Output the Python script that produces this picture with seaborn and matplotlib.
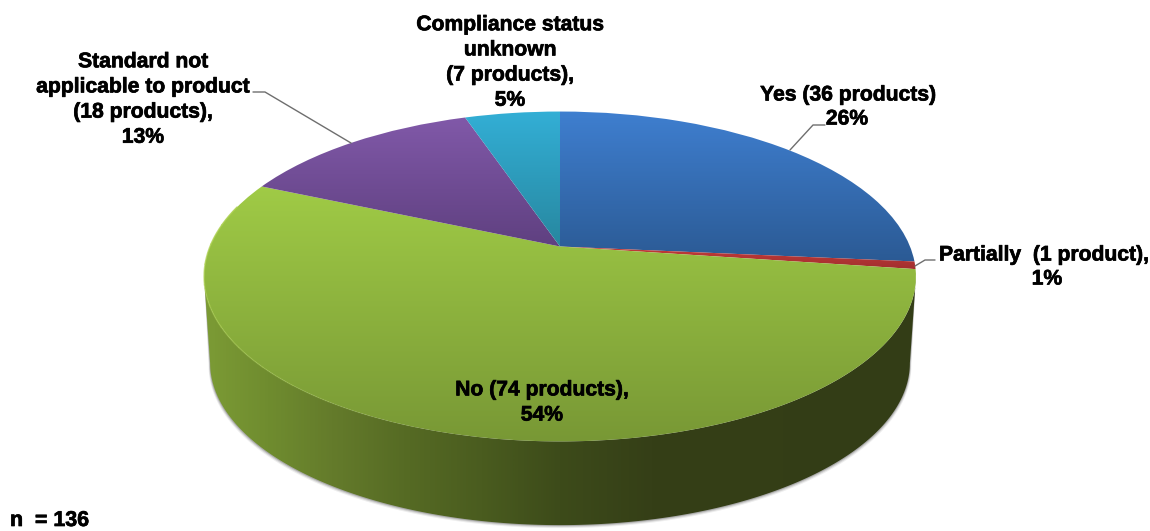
import numpy as np
import matplotlib
matplotlib.use('Agg')
import matplotlib.pyplot as plt
import matplotlib.patheffects as pe
import seaborn as sns
from matplotlib.colors import LinearSegmentedColormap
from matplotlib.patches import Polygon
from matplotlib.transforms import Transform

categories = ['Yes', 'Partially', 'No', 'Standard not applicable', 'Compliance status unknown']
products = [36, 1, 74, 18, 7]
top_colors = ['#3f7fd0', '#c63c3a', '#a0cb46', '#8159a9', '#33afd6']
bottom_colors = ['#2b5a94', '#a02e2e', '#789835', '#5f4080', '#27879f']

side_stops = [0.0, 0.09, 0.18, 0.28, 0.39, 0.5, 0.63, 1.0]
side_colors = ['#7c9b35', '#6f8c2f', '#647b2b', '#566b24', '#4a5c1f', '#3d4b1a', '#353f17', '#333d16']

sns.set_theme(style='white')
plt.rcParams['font.family'] = ['Liberation Sans', 'DejaVu Sans']

# pie is drawn in pixels, circle is squashed with a perspective map
cx, cy = 560, 246.5
c_x, c_y, k = 350, 159.5, 0.1818
depth_x, depth_y = 0.983, 87


class Persp(Transform):
    input_dims = 2
    output_dims = 2

    def __init__(self, scale=1.0, shift=0.0):
        super().__init__()
        self.scale = scale
        self.shift = shift

    def transform_non_affine(self, values):
        u, v = values[:, 0], values[:, 1]
        d = 1 + k * v
        return np.column_stack([cx + self.scale * c_x * u / d,
                                cy + self.shift - self.scale * c_y * v / d])


def arc(t1, t2, scale=1.0, shift=0.0):
    t = np.radians(np.linspace(t1, t2, 300))
    return Persp(scale, shift).transform_non_affine(np.column_stack([np.cos(t), np.sin(t)]))


fig, ax = plt.subplots(figsize=(11.5, 5.31), dpi=100)
fig.subplots_adjust(0, 0, 1, 1)

# lower half of the disc edge, between its two widest points
t_left, t_right = 190.5, 349.5

# soft shadow under the disc
for off, alpha in [(3.0, 0.10), (2.0, 0.18), (1.0, 0.30)]:
    low_line = arc(t_left, t_right, depth_x, depth_y) + [0, off]
    low_line[:150, 0] -= off * 0.5
    low_line[150:, 0] += off * 0.5
    ax.add_patch(Polygon(np.vstack([low_line, arc(t_left, t_right)[::-1]]),
                         closed=True, fc='#555555', ec='none', alpha=alpha, zorder=1))

# side wall
side_cmap = LinearSegmentedColormap.from_list('side', list(zip(side_stops, side_colors)))
side = Polygon(np.vstack([arc(t_left, t_right), arc(t_left, t_right, depth_x, depth_y)[::-1]]),
               closed=True, fc='none', ec='none', zorder=2)
ax.add_patch(side)
im = ax.imshow(np.linspace(0, 1, 512)[None, :], cmap=side_cmap, aspect='auto',
               extent=(204, 916, 531, 200), zorder=2)
im.set_clip_path(side)

# top of the pie
wedges, _ = ax.pie(products, startangle=90, counterclock=False, radius=1, center=(0, 0))
for w, c1, c2 in zip(wedges, top_colors, bottom_colors):
    w.set_transform(Persp() + ax.transData)
    w.set_facecolor('none')
    w.set_edgecolor('none')
    w.set_zorder(3)
    a1 = np.radians(np.linspace(w.theta1, w.theta2, 80))
    pts = Persp().transform_non_affine(np.column_stack(
        [np.r_[0, np.cos(a1)], np.r_[0, np.sin(a1)]]))
    y0, y1 = pts[:, 1].min(), pts[:, 1].max()
    cmap = LinearSegmentedColormap.from_list('w', [c1, c2])
    top = ax.imshow(np.linspace(0, 1, 256)[:, None], cmap=cmap, aspect='auto',
                    extent=(pts[:, 0].min() - 2, pts[:, 0].max() + 2, y1 + 1, y0 - 1), zorder=3)
    top.set_clip_path(w)

# light rim on the front left of the green slice, fading out
rim_edges = np.linspace(165, 250, 13)
for i in range(12):
    rim = arc(rim_edges[i], rim_edges[i + 1])
    ax.plot(rim[:, 0], rim[:, 1], color='#aacf4c', lw=1.1, alpha=0.85 * (1 - i / 12), zorder=4)

# leader lines
ax.plot([253, 265, 351], [92, 92, 143], color='#6e6e6e', lw=1.0, zorder=5)
ax.plot([790, 813, 825], [150, 125, 125], color='#6e6e6e', lw=1.0, zorder=5)
ax.plot([915, 925, 935], [266, 260, 260], color='#6e6e6e', lw=1.0, zorder=5)

label_style = dict(fontsize=15.2, fontweight='bold', color='black', linespacing=1.41, zorder=6,
                   path_effects=[pe.withStroke(linewidth=0.5, foreground='black')])
ax.text(143, 99.5, 'Standard not\napplicable to product\n(18 products),\n13%',
        ha='center', va='center', **label_style)
ax.text(510, 62.5, 'Compliance status\nunknown\n(7 products),\n5%',
        ha='center', va='center', **label_style)
ax.text(848, 95, 'Yes (36 products)', ha='center', va='center', **label_style)
ax.text(847, 119, '26%', ha='center', va='center', **label_style)
ax.text(939, 255, 'Partially  (1 product),', ha='left', va='center', **label_style)
ax.text(1047, 279, '1%', ha='center', va='center', **label_style)
ax.text(542, 402.5, 'No (74 products),\n54%', ha='center', va='center', **label_style)
ax.text(10, 530, 'n  = 136', ha='left', va='bottom', **{**label_style, 'fontsize': 15.4})

ax.set_xlim(0, 1150)
ax.set_ylim(531, 0)
ax.set_aspect('auto')
ax.axis('off')

fig.savefig('out.png', dpi=100)
